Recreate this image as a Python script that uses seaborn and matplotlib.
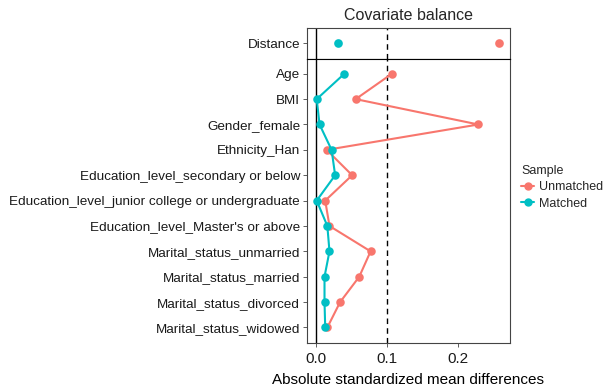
import matplotlib
matplotlib.use("Agg")
import matplotlib.pyplot as plt
from matplotlib.lines import Line2D
import seaborn as sns
import pandas as pd

sns.set_style("white")
plt.rcParams['font.family'] = ['Liberation Sans', 'DejaVu Sans']

covariates = ["Age", "BMI", "Gender_female", "Ethnicity_Han",
              "Education_level_secondary or below",
              "Education_level_junior college or undergraduate",
              "Education_level_Master's or above",
              "Marital_status_unmarried", "Marital_status_married",
              "Marital_status_divorced", "Marital_status_widowed"]
unmatched = [0.107, 0.056, 0.229, 0.015, 0.051, 0.013, 0.019, 0.077, 0.061, 0.034, 0.016]
matched = [0.040, 0.001, 0.005, 0.022, 0.027, 0.001, 0.016, 0.019, 0.012, 0.012, 0.013]
distance_label = ["Distance"]
distance_unmatched = [0.258]
distance_matched = [0.031]
samples = ["Unmatched", "Matched"]
colors = {"Unmatched": "#F8766D", "Matched": "#00BFC4"}

df = pd.DataFrame({
    "var": covariates * 2,
    "value": unmatched + matched,
    "Sample": ["Unmatched"] * len(covariates) + ["Matched"] * len(covariates),
})
dfd = pd.DataFrame({
    "var": distance_label * 2,
    "value": distance_unmatched + distance_matched,
    "Sample": ["Unmatched", "Matched"],
})

fig = plt.figure(figsize=(6.06, 3.9), dpi=100)
gs = fig.add_gridspec(2, 1, height_ratios=[1.2, 11.2], hspace=0,
                      left=0.5066, right=0.8408, top=0.928, bottom=0.1213)
ax_top = fig.add_subplot(gs[0])
ax = fig.add_subplot(gs[1], sharex=ax_top)

sns.pointplot(data=dfd, x="value", y="var", hue="Sample", hue_order=samples,
              palette=colors, orient="h", ax=ax_top, markers="o",
              linestyles="none", markersize=4.2, legend=False)
sns.pointplot(data=df, x="value", y="var", hue="Sample", hue_order=samples,
              palette=colors, orient="h", ax=ax, markers="o",
              linestyles="-", markersize=5, linewidth=1.5, legend=False,
              order=covariates)

for a in (ax_top, ax):
    a.axvline(0, color="black", lw=1, zorder=0)
    a.axvline(0.1, color="black", lw=1, ls=(0, (4, 3)), zorder=0)
    for s in a.spines.values():
        s.set_color("#444444")
        s.set_linewidth(0.8)
    a.set_ylabel("")
    a.set_xlabel("")
    a.tick_params(axis="y", length=3, width=0.6, color="#444444",
                  labelsize=9.7, labelcolor="#1a1a1a", pad=2, left=True)

ax_top.spines["bottom"].set_color("black")
ax.spines["top"].set_color("black")
ax_top.set_ylim(0.6, -0.6)
ax.set_ylim(len(covariates) - 1 + 0.6, -0.6)
ax.set_xlim(-0.0127, 0.273)
ax.set_xticks([0.0, 0.1, 0.2])
ax.set_xticklabels(["0.0", "0.1", "0.2"])
ax.tick_params(axis="x", length=3, width=0.6, color="#444444",
               labelsize=11, labelcolor="#1a1a1a", pad=4, bottom=True)
ax_top.tick_params(axis="x", bottom=False, labelbottom=False)
ax.set_xlabel("Absolute standardized mean differences", fontsize=11,
              color="black", labelpad=5)
ax_top.set_title("Covariate balance", fontsize=11.5, pad=6)

handles = [Line2D([0], [0], color=colors[s], marker="o", markersize=5,
                  lw=1.5) for s in samples]
leg = fig.legend(handles, samples, title="Sample", loc="upper left",
                 bbox_to_anchor=(0.852, 0.59), frameon=False,
                 fontsize=9, title_fontsize=9, handlelength=1.0,
                 handletextpad=0.4, labelspacing=0.35, borderaxespad=0)
leg._legend_box.align = "left"

fig.savefig("out.png", dpi=100)
